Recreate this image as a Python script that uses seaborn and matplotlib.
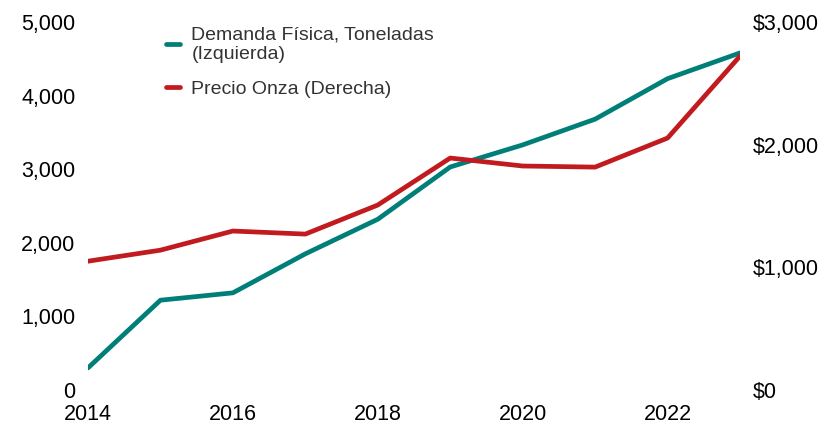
import matplotlib
matplotlib.use("Agg")
import matplotlib.pyplot as plt
import seaborn as sns
import pandas as pd
from matplotlib.ticker import FuncFormatter

years = [2014, 2015, 2016, 2017, 2018, 2019, 2020, 2021, 2022, 2023]
demanda = [300, 1220, 1320, 1850, 2320, 3030, 3330, 3680, 4230, 4580]
precio = [1050, 1140, 1296, 1271, 1508, 1891, 1826, 1817, 2054, 2722]
x_ticks = [2014, 2016, 2018, 2020, 2022]
left_ticks = [0, 1000, 2000, 3000, 4000, 5000]
right_ticks = [0, 1000, 2000, 3000]
label_dem = "Demanda Física, Toneladas\n(Izquierda)"
label_pre = "Precio Onza (Derecha)"

teal = "#007F78"
red = "#C21B1F"

sns.set_theme(style="white")
plt.rcParams["font.family"] = ["Liberation Sans", "DejaVu Sans"]

df = pd.DataFrame({"year": years, "demanda": demanda, "precio": precio})

fig = plt.figure(figsize=(8.36, 4.36), dpi=100)
ax = fig.add_axes([88/836, 46/436, (740-88)/836, (390-22)/436])
ax2 = ax.twinx()

sns.lineplot(data=df, x="year", y="demanda", ax=ax, color=teal, linewidth=3.4, label=label_dem, legend=False)
sns.lineplot(data=df, x="year", y="precio", ax=ax2, color=red, linewidth=3.4, label=label_pre, legend=False)

ax.set_xlim(2014, 2023)
ax.set_ylim(0, 5000)
ax2.set_ylim(0, 3000)
ax.set_xticks(x_ticks)
ax.set_yticks(left_ticks)
ax2.set_yticks(right_ticks)
ax.yaxis.set_major_formatter(FuncFormatter(lambda v, p: f"{int(v):,}"))
ax2.yaxis.set_major_formatter(FuncFormatter(lambda v, p: f"${int(v):,}"))
ax.set_xlabel("")
ax.set_ylabel("")
ax2.set_ylabel("")

for a in (ax, ax2):
    for s in a.spines.values():
        s.set_visible(False)
    a.grid(False)
ax.tick_params(axis="x", length=0, pad=10, labelsize=15.5, labelcolor="black")
ax.tick_params(axis="y", length=0, pad=9, labelsize=15.5, labelcolor="black")
ax2.tick_params(axis="y", length=0, pad=9, labelsize=15.5, labelcolor="black")

h1, l1 = ax.get_legend_handles_labels()
h2, l2 = ax2.get_legend_handles_labels()
leg = ax2.legend(h1 + h2, l1 + l2, loc="upper left", bbox_to_anchor=(0.093, 1.036),
                 frameon=False, fontsize=14, handlelength=0.7, handletextpad=0.6,
                 labelspacing=0.9, labelcolor="#333333")

fig.savefig("out.png", dpi=100)
